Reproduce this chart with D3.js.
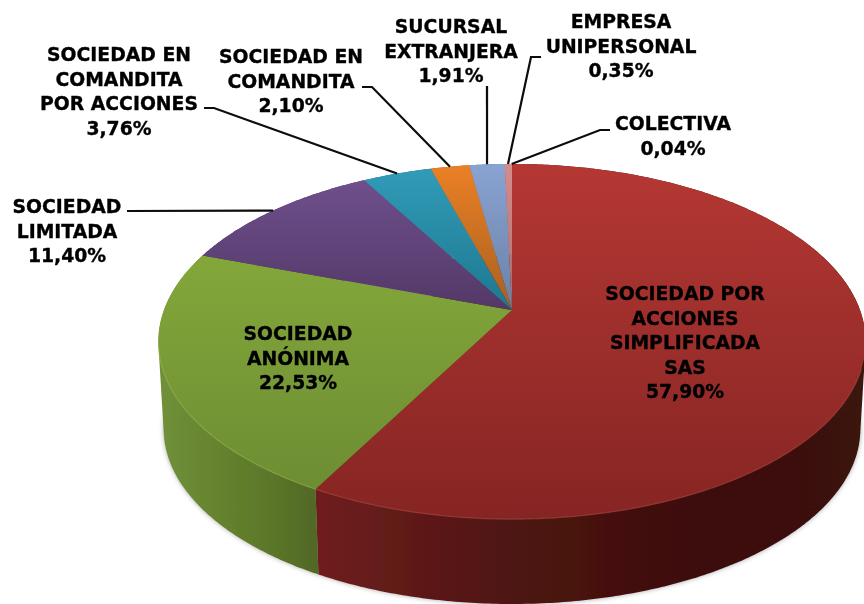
<!DOCTYPE html>
<html>
<head>
<meta charset="utf-8">
<script src="https://cdn.jsdelivr.net/npm/d3@7"></script>
<style>
  html, body { margin: 0; padding: 0; background: #fff; }
  text { font-family: "DejaVu Sans", sans-serif; font-weight: bold; font-size: 18.8px; fill: #050505; stroke: #050505; stroke-width: 0.35px; text-anchor: middle; }
</style>
</head>
<body>
<div id="chart"></div>
<script>
// the values, clockwise from 12 o'clock
const categories = [
  ["SOCIEDAD POR", "ACCIONES", "SIMPLIFICADA", "SAS"],
  ["SOCIEDAD", "ANÓNIMA"],
  ["SOCIEDAD", "LIMITADA"],
  ["SOCIEDAD EN", "COMANDITA", "POR ACCIONES"],
  ["SOCIEDAD EN", "COMANDITA"],
  ["SUCURSAL", "EXTRANJERA"],
  ["EMPRESA", "UNIPERSONAL"],
  ["COLECTIVA"]
];
const values = [57.90, 22.53, 11.40, 3.76, 2.10, 1.91, 0.35, 0.04];

// top face colours (top and bottom of the gradient)
const topColors = [
  ["#b43733", "#852523"], ["#8cb03d", "#6d8d33"], ["#71518f", "#533867"], ["#319bb7", "#1e7790"],
  ["#e87f25", "#a86020"], ["#88a2d1", "#6a80a5"], ["#d58a88", "#a87270"], ["#e0a0a0", "#e0a0a0"]
];
// wall colours, left to right
const wallColors = [
  ["#6f1f1e", "#501412", "#3e0f0f", "#3a1210"], ["#70903a", "#66842f", "#5c7729", "#506626"],
  ["#4a3260", "#4a3260"], ["#1a6478", "#1a6478"], ["#a85a18", "#a85a18"],
  ["#5f7496", "#5f7496"], ["#8f5f5f", "#8f5f5f"], ["#8f5f5f", "#8f5f5f"]
];

// label block: centre x, first baseline y
const labelPos = [
  [685, 300], [298, 340], [67, 213], [119, 61], [291, 63], [451, 33], [621, 28], [673, 130]
];
// where each leader line leaves its label (null = no leader)
const leaderStart = [
  null, null,
  [[127, 211]],
  [[204, 108], [214, 108]],
  [[362, 87], [372, 87]],
  [[487, 86]],
  [[541, 57], [531, 57]],
  [[610, 130], [600, 130]]
];

const width = 864, height = 604;

// the pie is a tilted circle, so rim points go through a small perspective projection
const cx = 512, cy = 310, rx = 348, ry = 172, k = 0.1775;
const lowerScale = 0.985, lowerDrop = 88;

function rim(angle, lower) {
  const X = Math.sin(angle), Y = -Math.cos(angle), w = 1 - k * Y;
  const s = lower ? lowerScale : 1;
  return [cx + s * rx * X / w, cy + s * ry * Y / w + (lower ? lowerDrop : 0)];
}
function rimPoints(a0, a1, lower) {
  const n = Math.max(2, Math.ceil((a1 - a0) / 0.01));
  return d3.range(n + 1).map(i => rim(a0 + (a1 - a0) * i / n, lower));
}

const svg = d3.select("#chart").append("svg")
    .attr("width", width)
    .attr("height", height)
    .style("display", "block");

const defs = svg.append("defs");
defs.append("filter").attr("id", "soft").attr("x", "-5%").attr("y", "-5%").attr("width", "110%").attr("height", "110%")
  .append("feGaussianBlur").attr("stdDeviation", 2.5);
defs.append("filter").attr("id", "edge")
  .append("feGaussianBlur").attr("stdDeviation", 0.5);
defs.append("filter").attr("id", "textblur")
  .append("feGaussianBlur").attr("stdDeviation", 0.35);

const arcs = d3.pie().sort(null).value(d => d)(values);
const line = d3.line();

topColors.forEach((c, i) => {
  const g = defs.append("linearGradient").attr("id", "top" + i)
    .attr("gradientUnits", "userSpaceOnUse")
    .attr("x1", 0).attr("x2", 0).attr("y1", 170).attr("y2", i === 0 ? 519 : i === 1 ? 490 : 310);
  c.forEach((col, j) => g.append("stop").attr("offset", j / (c.length - 1)).attr("stop-color", col));
});
wallColors.forEach((c, i) => {
  const g = defs.append("linearGradient").attr("id", "wall" + i)
    .attr("gradientUnits", "userSpaceOnUse")
    .attr("x1", i === 0 ? 320 : 160).attr("x2", i === 0 ? 860 : 322).attr("y1", 0).attr("y2", 0);
  c.forEach((col, j) => g.append("stop").attr("offset", j / (c.length - 1)).attr("stop-color", col));
});

// hull of the upper and lower rim, so the wall reaches the outline on both sides
const wallPath = d => line(d3.polygonHull(
  rimPoints(d.startAngle, d.endAngle, false).concat(rimPoints(d.startAngle, d.endAngle, true)))) + "Z";

// soft shadow below the pie
svg.append("path")
    .attr("d", line(rimPoints(0, 2 * Math.PI, true)) + "Z")
    .attr("fill", "#a8a8a8")
    .attr("filter", "url(#soft)");

// walls first, the top face covers whatever is behind
svg.append("g").selectAll("path")
  .data(arcs)
  .join("path")
    .attr("d", wallPath)
    .attr("fill", (d, i) => `url(#wall${i})`)
    .attr("filter", "url(#edge)");

svg.append("g").selectAll("path")
  .data(arcs)
  .join("path")
    .attr("d", d => line([[cx, cy]].concat(rimPoints(d.startAngle, d.endAngle, false))) + "Z")
    .attr("fill", (d, i) => `url(#top${i})`);

// lighter bevel on the front rim
svg.append("g").selectAll("path")
  .data(arcs.slice(0, 2))
  .join("path")
    .attr("d", d => line(rimPoints(Math.max(d.startAngle, 1.9), Math.min(d.endAngle, 4.5), false)))
    .attr("fill", "none")
    .attr("stroke", (d, i) => i === 0 ? "#b8504c" : "#9dbd55")
    .attr("stroke-width", 1.2)
    .attr("opacity", 0.5);

// leader lines end on the rim at the middle of their slice
svg.append("g").selectAll("path")
  .data(arcs.map((d, i) => ({ arc: d, start: leaderStart[i] })).filter(d => d.start))
  .join("path")
    .attr("d", d => line(d.start.concat([rim((d.arc.startAngle + d.arc.endAngle) / 2, false)])))
    .attr("fill", "none")
    .attr("stroke", "#0c0c0c")
    .attr("stroke-width", 2.2);

const labels = svg.append("g").attr("filter", "url(#textblur)").selectAll("text")
  .data(categories)
  .join("text")
    .attr("x", (d, i) => labelPos[i][0])
    .attr("y", (d, i) => labelPos[i][1]);

labels.selectAll("tspan")
  .data((d, i) => d.concat(values[i].toFixed(2).replace(".", ",") + "%"))
  .join("tspan")
    .attr("x", function () { return this.parentNode.getAttribute("x"); })
    .attr("dy", (d, j) => j === 0 ? 0 : 24.5)
    .text(d => d);
</script>
</body>
</html>
